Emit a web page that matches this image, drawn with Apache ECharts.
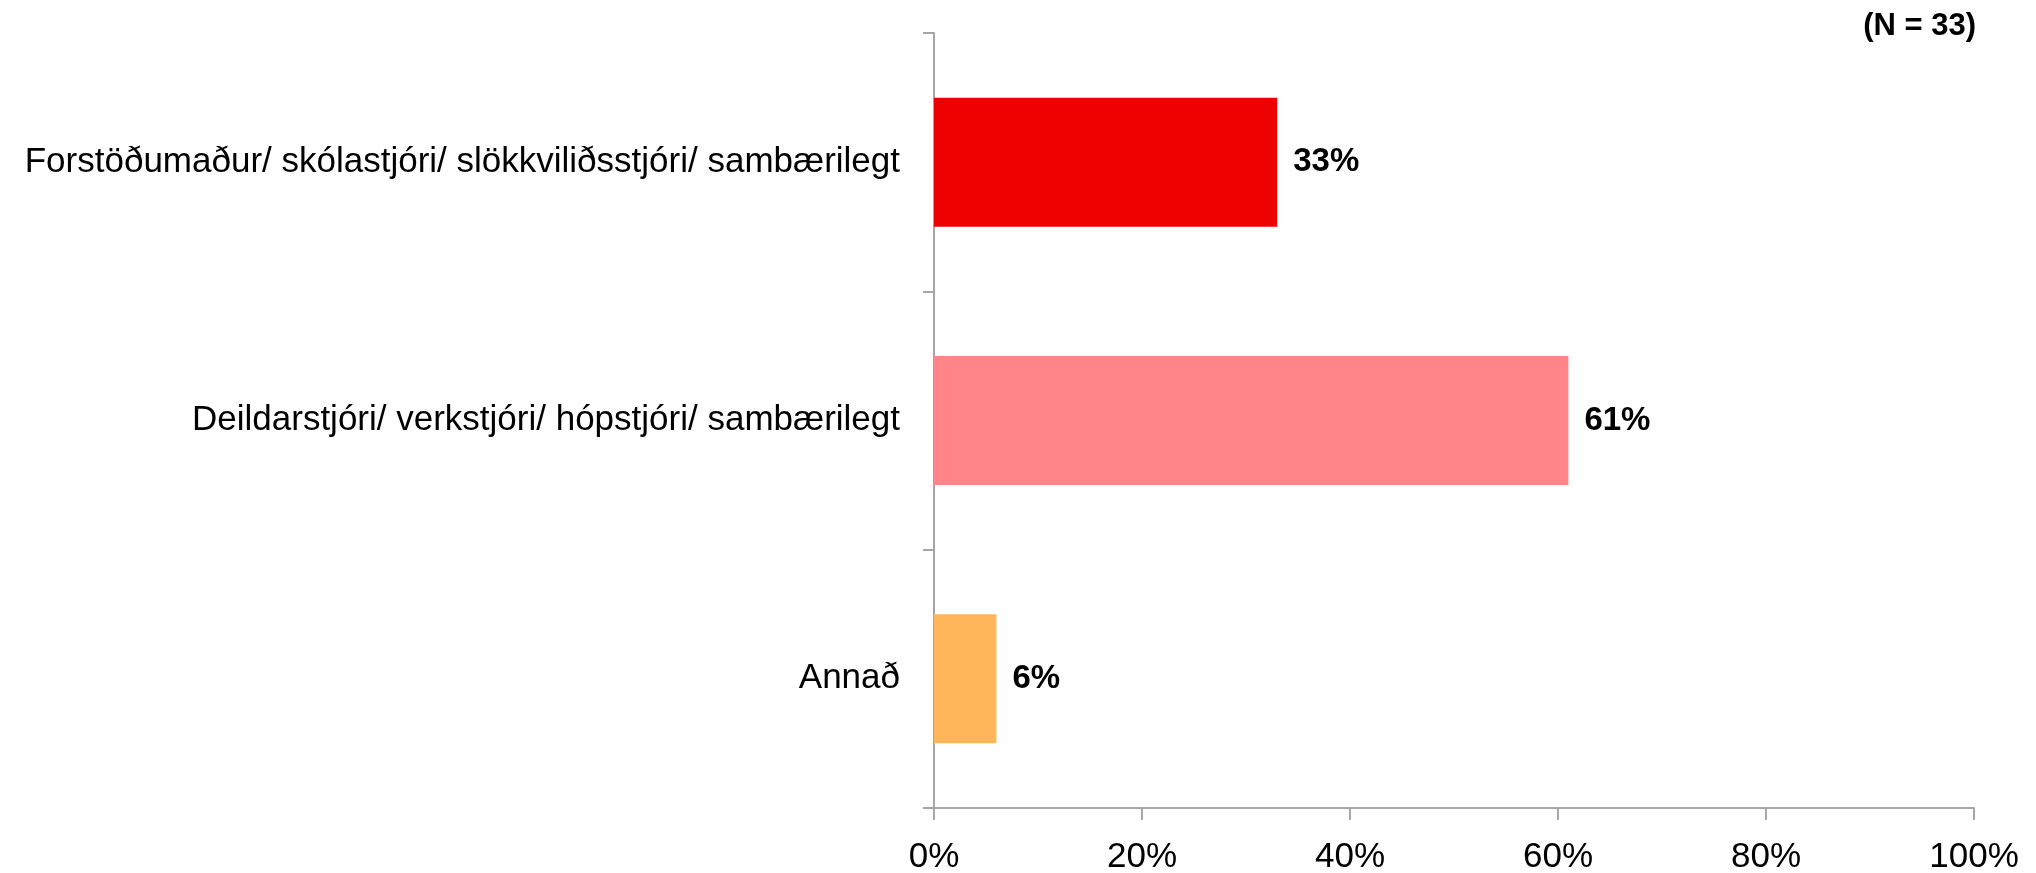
<!DOCTYPE html>
<html>
<head>
<meta charset="utf-8">
<script src="https://cdn.jsdelivr.net/npm/echarts@6/dist/echarts.min.js"></script>
<style>
html, body { margin: 0; padding: 0; background: #fff; }
#main { width: 2036px; height: 873px; }
</style>
</head>
<body>
<div id="main"></div>
<script>
// flokkar og gildi
const categories = [
    'Forstöðumaður/ skólastjóri/ slökkviliðsstjóri/ sambærilegt',
    'Deildarstjóri/ verkstjóri/ hópstjóri/ sambærilegt',
    'Annað'
]
const values = [33, 61, 6]
const barColors = ['#ec0000', '#ff8589', '#ffb55a']
const xTicks = [0, 20, 40, 60, 80, 100]

const font = 'Liberation Sans'
const axisColor = '#a6a6a6'

const chart = echarts.init(document.getElementById('main'))
chart.setOption({
    animation: false,
    graphic: [
        {
            type: 'text',
            right: 60,
            top: 11,
            style: { text: '(N = 33)', font: 'bold 31px "' + font + '"', fill: '#000' }
        }
    ],
    grid: { left: 934, right: 62, top: 33, bottom: 65, outerBoundsMode: 'none' },
    xAxis: {
        type: 'value',
        min: xTicks[0],
        max: xTicks[xTicks.length - 1],
        interval: 20,
        splitLine: { show: false },
        axisLine: { show: true, lineStyle: { color: axisColor, width: 2 } },
        axisTick: { show: true, length: 12, lineStyle: { color: axisColor, width: 2 } },
        axisLabel: {
            margin: 32,
            fontSize: 35,
            fontFamily: font,
            color: '#000',
            formatter: v => v + '%'
        }
    },
    yAxis: {
        type: 'category',
        inverse: true,
        data: categories,
        axisLine: { show: true, lineStyle: { color: axisColor, width: 2 } },
        axisTick: { show: true, length: 11, lineStyle: { color: axisColor, width: 2 } },
        axisLabel: {
            margin: 34,
            fontSize: 35,
            fontFamily: font,
            color: '#000'
        }
    },
    series: [
        {
            type: 'bar',
            barWidth: 129,
            data: values.map((v, i) => ({ value: v, itemStyle: { color: barColors[i] } })),
            label: {
                show: true,
                position: 'right',
                distance: 16,
                fontSize: 33,
                fontWeight: 'bold',
                fontFamily: font,
                color: '#000',
                formatter: p => p.value + '%'
            }
        }
    ]
})
</script>
</body>
</html>
